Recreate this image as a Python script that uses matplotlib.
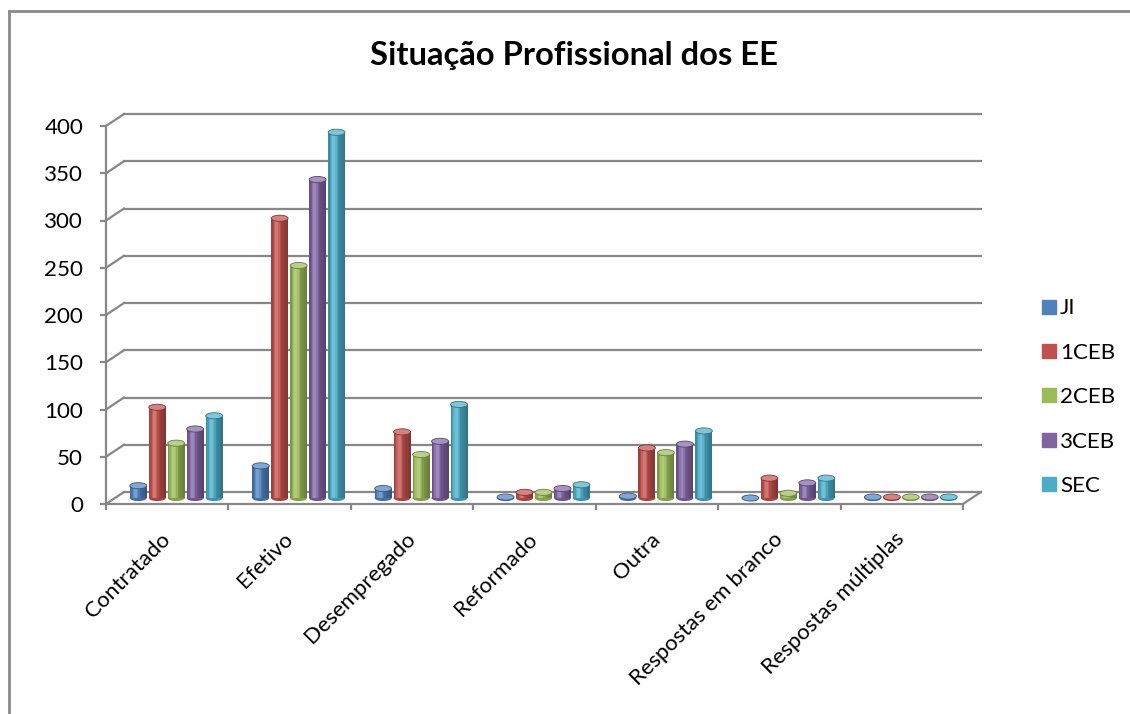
import numpy as np
import matplotlib
matplotlib.use('Agg')
import matplotlib.pyplot as plt
from matplotlib.colors import to_rgb
from matplotlib.lines import Line2D
from matplotlib.patches import Ellipse
from matplotlib.transforms import offset_copy, Affine2D

plt.rcParams['font.family'] = ['Lato', 'DejaVu Sans']

categorias = ['Contratado', 'Efetivo', 'Desempregado', 'Reformado', 'Outra',
              'Respostas em branco', 'Respostas múltiplas']
series = ['JI', '1CEB', '2CEB', '3CEB', 'SEC']
ji = [13, 34, 10, 1, 2, 0, 1]
ceb1 = [96, 296, 70, 6, 53, 21, 1]
ceb2 = [58, 246, 46, 6, 48, 5, 1]
ceb3 = [73, 337, 60, 10, 57, 16, 1]
sec = [87, 387, 99, 14, 71, 21, 1]
valores = [ji, ceb1, ceb2, ceb3, sec]
cores = ['#4F81BD', '#C0504D', '#9BBB59', '#8064A2', '#4BACC6']
yticks = list(range(0, 401, 50))

W, H = 1130, 714
fig = plt.figure(figsize=(W / 100, H / 100), dpi=100)
ax = fig.add_axes([106 / W, (H - 504) / H, 857 / W, 378 / H])
ax.set_xlim(-0.5, 6.5)
ax.set_ylim(0, 400)
ax.set_facecolor('none')

grey = '#878787'
# fake 3D: back wall and bars are shifted from the front plane
wall = offset_copy(ax.transData, fig=fig, x=18, y=12, units='dots')
mid = offset_copy(ax.transData, fig=fig, x=9, y=6, units='dots')
px_x = ax.bbox.width / 7
px_y = ax.bbox.height / 400
wdx, wdy = 18 / px_x, 12 / px_y

for v in yticks:
    ax.plot([-0.5, 6.5], [v, v], transform=wall, color=grey, lw=1.6,
            clip_on=False, zorder=1)
    ax.plot([-0.5, -0.5 + wdx], [v, v + wdy], color=grey, lw=1.6,
            clip_on=False, zorder=1)
ax.plot([6.5, 6.5 + wdx], [0, wdy], color=grey, lw=1.6, clip_on=False, zorder=1)


def shade(base, t):
    c = np.array(to_rgb(base))
    k = 0.8 + 0.45 * np.exp(-((t - 0.33) / 0.2) ** 2) - 0.14 * ((t - 0.4) / 0.6) ** 2
    if k > 1:
        return tuple(c + (1 - c) * (k - 1))
    return tuple(c * k)


n = 12
passo = 0.155
larg = 0.138
cap_h = 6.5
for i, (vals, cor) in enumerate(zip(valores, cores)):
    for j, v in enumerate(vals):
        xc = j + (i - 2) * passo
        xs = xc - larg / 2 + (np.arange(n) + 0.5) * larg / n
        cols = [shade(cor, (k + 0.5) / n) for k in range(n)]
        ax.add_patch(Ellipse((xc, 0), larg, cap_h, transform=mid,
                             facecolor=shade(cor, 0.6), edgecolor='none',
                             zorder=2, clip_on=False))
        ax.bar(xs, [v] * n, width=larg / n * 1.05, color=cols, linewidth=0,
               transform=mid, zorder=3, clip_on=False)
        top = tuple(np.array(to_rgb(cor)) * 0.7 + 0.3)
        ax.add_patch(Ellipse((xc, v), larg, cap_h, transform=mid,
                             facecolor=top, edgecolor=shade(cor, 0.95), lw=0.6,
                             zorder=4, clip_on=False))

for s in ['top', 'right']:
    ax.spines[s].set_visible(False)
for s in ['left', 'bottom']:
    ax.spines[s].set_color(grey)
    ax.spines[s].set_linewidth(1.6)
    ax.spines[s].set_zorder(5)

ax.set_yticks(yticks)
ax.tick_params(axis='y', length=4.5, width=1.6, color=grey, labelsize=15, pad=8)
ax.set_xticks(range(len(categorias)))
ax.set_xticklabels(categorias, rotation=45, ha='right', rotation_mode='anchor')
ax.set_xticks(np.arange(-0.5, 7, 1), minor=True)
ax.tick_params(axis='x', which='major', length=0, labelsize=15, pad=13)
ax.tick_params(axis='x', which='minor', length=4.5, width=1.6, color=grey)

titulo = fig.text(574 / W, 1 - 65 / H, 'Situação Profissional dos EE', ha='center',
                  va='baseline', fontsize=17, fontweight='bold')

frame = '#8a8a8a'
fig.add_artist(Line2D([9 / W, 1], [1 - 11 / H] * 2, transform=fig.transFigure,
                      color=frame, lw=2))
fig.add_artist(Line2D([9 / W, 9 / W], [0, 1 - 11 / H], transform=fig.transFigure,
                      color=frame, lw=2))

# size the texts to the pixel extents of the original
fig.canvas.draw()
r = fig.canvas.get_renderer()

titulo.set_fontsize(17 * 409 / titulo.get_window_extent(r).width)

yl = ax.get_yticklabels()[-1]
ysize = 15 * 39 / yl.get_window_extent(r).width
ax.tick_params(axis='y', labelsize=ysize)

xl = ax.get_xticklabels()[5]
xsize = 15 * 161 / xl.get_window_extent(r).width
ax.tick_params(axis='x', which='major', labelsize=xsize)

fig.canvas.draw()
yl = ax.get_yticklabels()[-1]
ax.tick_params(axis='y', pad=8 + (yl.get_window_extent(r).x1 - 83) * 0.72)

for j, lab in enumerate(ax.get_xticklabels()):
    bb = lab.get_window_extent(r)
    cx = ax.transData.transform((j, 0))[0]
    dx = cx + 7 - bb.x1
    dy = (H - 529) - bb.y1
    lab.set_transform(lab.get_transform() + Affine2D().translate(dx, dy))

handles = [Line2D([], [], marker='s', ls='', color=c, markersize=9.4) for c in cores]


def legenda(ls, anchor):
    return fig.legend(handles, series, loc='upper left', bbox_to_anchor=anchor,
                      frameon=False, fontsize=ysize, labelspacing=ls,
                      handletextpad=0.2, handlelength=0.6, borderaxespad=0,
                      borderpad=0)


ls = 1.1
anchor = (1040 / W, 1 - 290 / H)
leg = legenda(ls, anchor)
fig.canvas.draw()
cy = [t.get_window_extent(r).y0 + t.get_window_extent(r).height / 2 for t in leg.get_texts()]
esp = -np.mean(np.diff(cy))
ls = ls + (44.4 - esp) / (ysize * 100 / 72)
leg.remove()
leg = legenda(ls, anchor)
fig.canvas.draw()
t0 = leg.get_texts()[0].get_window_extent(r)
ddx = 1060 - t0.x0
ddy = (H - 308.5) - (t0.y0 + t0.height / 2)
leg.remove()
leg = legenda(ls, (anchor[0] + ddx / W, anchor[1] + ddy / H))

fig.savefig('out.png', dpi=100)
